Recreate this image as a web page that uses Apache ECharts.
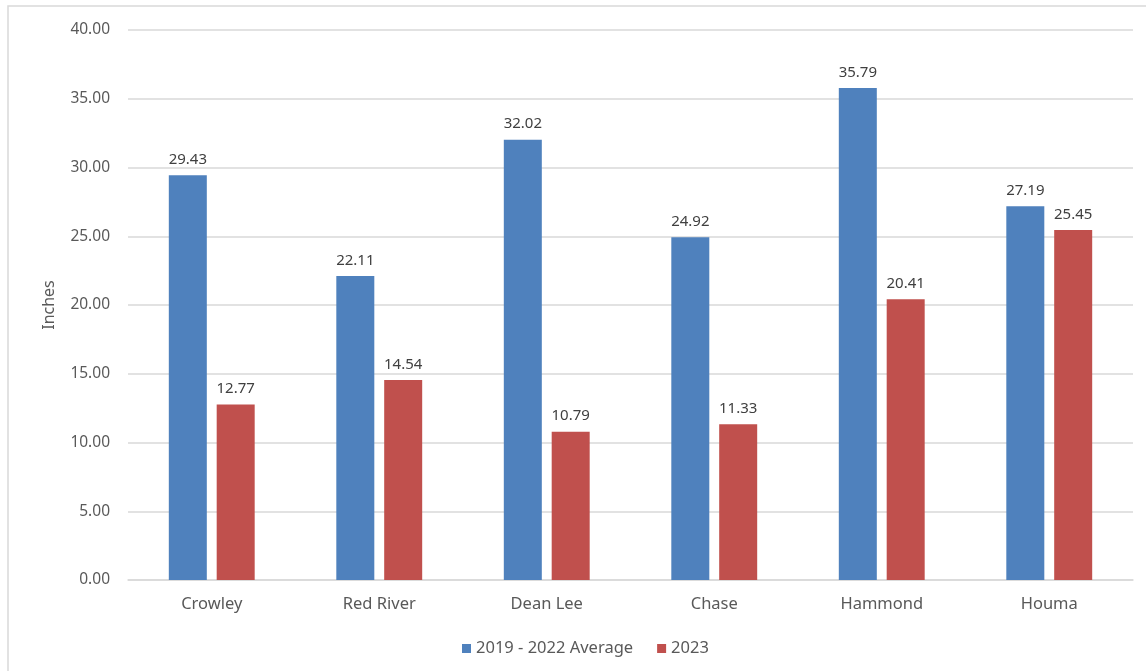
<!DOCTYPE html>
<html>
<head>
<meta charset="utf-8">
<script src="https://cdn.jsdelivr.net/npm/echarts@6/dist/echarts.min.js"></script>
<style>
  html, body { margin: 0; padding: 0; background: #fff; }
  #chart { width: 1146px; height: 671px; }
</style>
</head>
<body>
<div id="chart"></div>
<script>
var stations = ['Crowley', 'Red River', 'Dean Lee', 'Chase', 'Hammond', 'Houma'];
var avg2019to2022 = [29.43, 22.11, 32.02, 24.92, 35.79, 27.19];
var rain2023 = [12.77, 14.54, 10.79, 11.33, 20.41, 25.45];
var seriesNames = ['2019 - 2022 Average', '2023'];

var chart = echarts.init(document.getElementById('chart'));
var font = 'Noto Sans';

var option = {
  animation: false,
  textStyle: { fontFamily: font },
  graphic: [{
    type: 'rect',
    shape: { x: 8, y: 6, width: 1150, height: 680 },
    style: { fill: 'none', stroke: '#d9d9d9', lineWidth: 1.5 },
    silent: true
  }],
  legend: {
    data: seriesNames,
    bottom: 9,
    left: 457,
    itemWidth: 9,
    itemHeight: 9,
    itemGap: 24,
    icon: 'rect',
    textStyle: { color: '#595959', fontSize: 16.5, fontFamily: font }
  },
  grid: { left: 128, right: 13, top: 30, bottom: 91 },
  xAxis: {
    type: 'category',
    data: stations,
    axisTick: { show: false },
    axisLine: { lineStyle: { color: '#d9d9d9', width: 1.5 } },
    axisLabel: { color: '#595959', fontSize: 16.5, margin: 16 }
  },
  yAxis: {
    type: 'value',
    min: 0,
    max: 40,
    interval: 5,
    name: 'Inches',
    nameLocation: 'middle',
    nameGap: 71,
    nameTextStyle: { color: '#595959', fontSize: 16 },
    axisLabel: {
      color: '#595959',
      fontSize: 15.5,
      margin: 18,
      formatter: function (v) { return v.toFixed(2); }
    },
    splitLine: { lineStyle: { color: '#d9d9d9', width: 1.5 } }
  },
  series: [
    {
      name: seriesNames[0],
      type: 'bar',
      data: avg2019to2022,
      barWidth: 38,
      barGap: '26%',
      itemStyle: { color: '#4f81bd' },
      label: {
        show: true, position: 'top', distance: 8,
        color: '#404040', fontSize: 15,
        formatter: function (p) { return p.value.toFixed(2); }
      }
    },
    {
      name: seriesNames[1],
      type: 'bar',
      data: rain2023,
      barWidth: 38,
      itemStyle: { color: '#c0504d' },
      label: {
        show: true, position: 'top', distance: 8,
        color: '#404040', fontSize: 15,
        formatter: function (p) { return p.value.toFixed(2); }
      }
    }
  ]
};

chart.setOption(option);
window.addEventListener('resize', function () { chart.resize(); });
</script>
</body>
</html>
